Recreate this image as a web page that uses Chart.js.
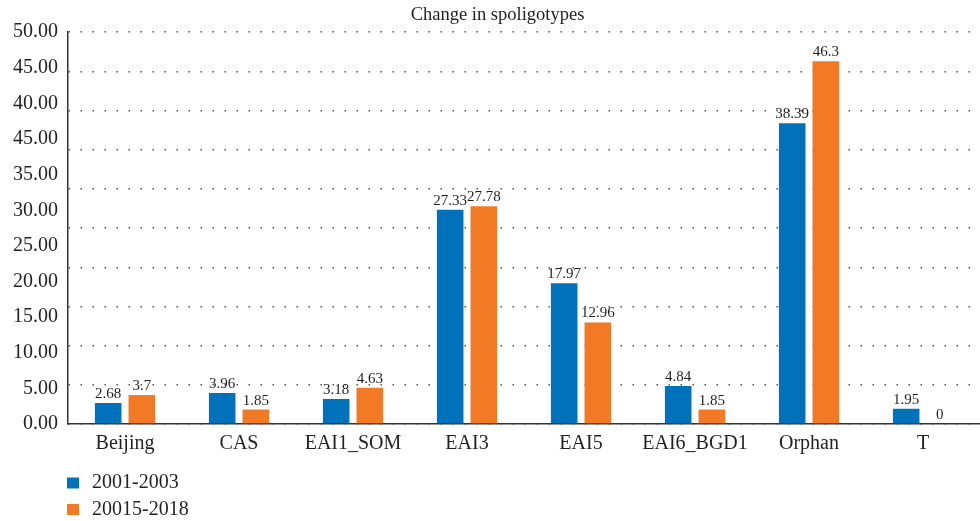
<!DOCTYPE html>
<html>
<head>
<meta charset="utf-8">
<script src="https://cdn.jsdelivr.net/npm/chart.js@4/dist/chart.umd.min.js"></script>
<style>
  html, body { margin: 0; padding: 0; background: #fff; }
  #wrap { width: 980px; height: 521px; }
</style>
</head>
<body>
<div id="wrap"><canvas id="spoligoChart"></canvas></div>
<script>
// values
const categories = ['Beijing', 'CAS', 'EAI1_SOM', 'EAI3', 'EAI5', 'EAI6_BGD1', 'Orphan', 'T'];
const series2001 = [2.68, 3.96, 3.18, 27.33, 17.97, 4.84, 38.39, 1.95];
const series2015 = [3.7, 1.85, 4.63, 27.78, 12.96, 1.85, 46.3, 0];
const seriesNames = ['2001-2003', '20015-2018'];
// the printed axis labels (bottom to top), typo included
const yTickLabels = ['0.00', '5.00', '10.00', '15.00', '20.00', '25.00', '30.00', '35.00', '45.00', '40.00', '45.00', '50.00'];

const BLUE = '#0072BC';
const ORANGE = '#F37A24';
const INK = '#231f20';
const SERIF = '"Liberation Serif", "DejaVu Serif", serif';

// value labels above each bar
const valueLabels = {
  id: 'valueLabels',
  afterDatasetsDraw(chart) {
    const ctx = chart.ctx;
    ctx.save();
    ctx.font = '15px ' + SERIF;
    ctx.fillStyle = INK;
    ctx.textAlign = 'center';
    ctx.textBaseline = 'alphabetic';
    chart.data.datasets.forEach((ds, di) => {
      const meta = chart.getDatasetMeta(di);
      meta.data.forEach((bar, i) => {
        ctx.fillText(String(ds.data[i]), bar.x, bar.y - 5);
      });
    });
    ctx.restore();
  }
};

// legend stacked one item per row, under the axis
const stackedLegend = {
  id: 'stackedLegend',
  afterDraw(chart) {
    const ctx = chart.ctx;
    const left = chart.chartArea.left - 1;
    const baseY = chart.chartArea.bottom + 59;
    ctx.save();
    ctx.font = '20px ' + SERIF;
    ctx.textBaseline = 'middle';
    ctx.textAlign = 'left';
    chart.data.datasets.forEach((ds, di) => {
      const y = baseY + di * 26.5;
      ctx.fillStyle = ds.backgroundColor;
      ctx.fillRect(left, y - 5.5, 12, 11);
      ctx.fillStyle = INK;
      ctx.fillText(ds.label, left + 25, y);
    });
    ctx.restore();
  }
};

const ctx = document.getElementById('spoligoChart').getContext('2d');
const chart = new Chart(ctx, {
  type: 'bar',
  data: {
    labels: categories,
    datasets: [
      { label: seriesNames[0], data: series2001, backgroundColor: BLUE },
      { label: seriesNames[1], data: series2015, backgroundColor: ORANGE }
    ]
  },
  options: {
    responsive: true,
    maintainAspectRatio: false,
    animation: false,
    categoryPercentage: 0.59,
    barPercentage: 0.79,
    layout: { padding: { left: 3, right: -12, top: 0, bottom: 65 } },
    plugins: {
      legend: { display: false },
      tooltip: { enabled: false },
      title: {
        display: true,
        text: 'Change in spoligotypes',
        color: INK,
        font: { family: SERIF, size: 18.5, weight: 'normal' },
        padding: { top: 4, bottom: 6 }
      }
    },
    scales: {
      x: {
        grid: { display: false },
        border: { display: true, color: '#333', width: 1.5 },
        ticks: { color: INK, font: { family: SERIF, size: 20 }, padding: 0 }
      },
      y: {
        min: 0,
        max: 50,
        weight: 0,
        ticks: { display: false, stepSize: 5 },
        grid: { color: '#555', lineWidth: 1.5, drawTicks: false },
        border: { display: true, color: '#333', width: 1.5, dash: [1.5, 10.5] }
      },
      yLabels: {
        type: 'linear',
        position: 'left',
        weight: 1,
        min: 0,
        max: 55,
        grid: { display: false, drawTicks: false },
        border: { display: false },
        ticks: {
          stepSize: 5,
          color: INK,
          padding: 10,
          font: { family: SERIF, size: 20 },
          callback: (v, i) => yTickLabels[i]
        }
      }
    }
  },
  plugins: [valueLabels, stackedLegend]
});
</script>
</body>
</html>
